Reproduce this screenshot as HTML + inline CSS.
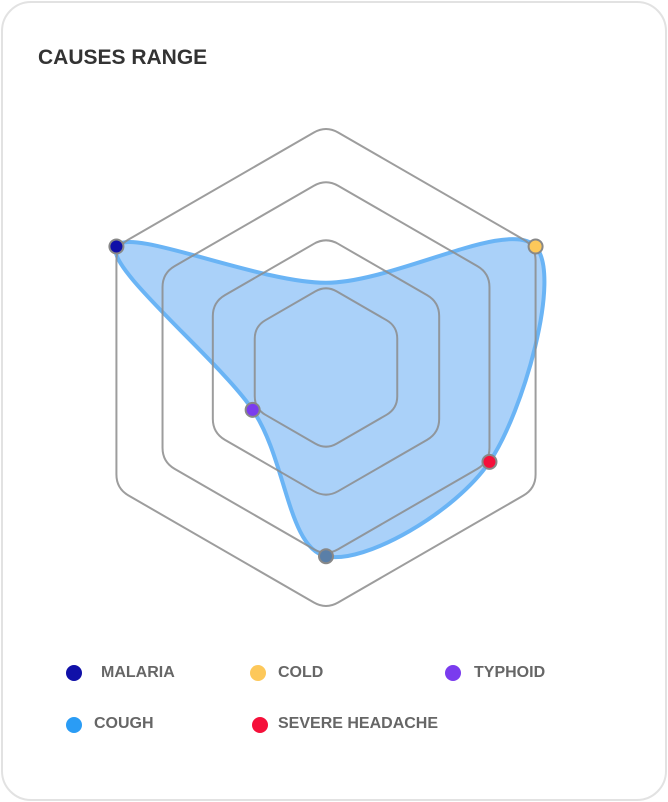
<!DOCTYPE html>
<html><head><meta charset="utf-8"><style>
body{margin:0;width:668px;height:802px;background:#fff;font-family:"Liberation Sans",sans-serif;}
.card{position:absolute;left:1px;top:1px;width:662px;height:796px;border:2px solid #e2e2e2;border-radius:30px;}
.title{position:absolute;left:38px;top:46px;font-size:21px;font-weight:bold;color:#333;}
.leg{position:absolute;font-size:16px;font-weight:bold;color:#666;}
.dot{position:absolute;width:16px;height:16px;border-radius:50%;}
</style></head><body>
<div class="card"></div>
<div class="title">CAUSES RANGE</div>
<svg id="chart" width="668" height="802" style="position:absolute;left:0;top:0"></svg>
<div class="dot" style="left:66px;top:665px;background:#1010a8"></div>
<div class="leg" style="left:101px;top:664px">MALARIA</div>
<div class="dot" style="left:250px;top:665px;background:#fdc85a"></div>
<div class="leg" style="left:278px;top:664px">COLD</div>
<div class="dot" style="left:445px;top:665px;background:#7a3cee"></div>
<div class="leg" style="left:474px;top:664px">TYPHOID</div>
<div class="dot" style="left:66px;top:717px;background:#2a9cf5"></div>
<div class="leg" style="left:94px;top:715px">COUGH</div>
<div class="dot" style="left:252px;top:717px;background:#f5103a"></div>
<div class="leg" style="left:278px;top:715px">SEVERE HEADACHE</div>
<script>
const categories=["Top","Cold","Severe Headache","Cough","Typhoid","Malaria"];
const values=[35,100,78,78,35,100];
const markerColors=[null,"#fdc85a","#f5103a","#5a7fa8","#7a3cee","#1010a8"];
const ringLevels=[34,54,78,100];
const cx=326,cy=367.5,R=242,maxV=100;
const svg=document.getElementById('chart');
const NS='http://www.w3.org/2000/svg';
function ang(i){return -Math.PI/2+i*Math.PI/3;}
function pt(i,v){const r=v/maxV*R;return [cx+r*Math.cos(ang(i)),cy+r*Math.sin(ang(i))];}
const P=values.map((v,i)=>pt(i,v));
const n=P.length,t=0.975;let d='M'+P[0].join(',');
for(let i=0;i<n;i++){
  const p0=P[(i-1+n)%n],p1=P[i],p2=P[(i+1)%n],p3=P[(i+2)%n];
  const c1=[p1[0]+(p2[0]-p0[0])/6*t,p1[1]+(p2[1]-p0[1])/6*t];
  const c2=[p2[0]-(p3[0]-p1[0])/6*t,p2[1]-(p3[1]-p1[1])/6*t];
  d+=' C'+c1.join(',')+' '+c2.join(',')+' '+p2.join(',');
}
const area=document.createElementNS(NS,'path');
area.setAttribute('d',d+'Z');area.setAttribute('fill','rgba(42,140,240,0.4)');area.setAttribute('stroke','#6ab4f5');area.setAttribute('stroke-width','4');


svg.appendChild(area);
ringLevels.forEach((lv,k)=>{
  const V=categories.map((c,i)=>pt(i,lv));
  const rc=Math.min(14,lv/maxV*R*0.15);
  let s='';
  V.forEach((v,i)=>{
    const a=V[(i-1+6)%6],b=V[(i+1)%6];
    const L=lv/maxV*R;
    const f=rc/L;
    const s1=[v[0]+(a[0]-v[0])*f,v[1]+(a[1]-v[1])*f];
    const s2=[v[0]+(b[0]-v[0])*f,v[1]+(b[1]-v[1])*f];
    s+=(i===0?'M':'L')+s1.join(',')+' Q'+v.join(',')+' '+s2.join(',')+' ';
  });
  const p=document.createElementNS(NS,'path');
  p.setAttribute('d',s+'Z');
  p.setAttribute('fill','none');p.setAttribute('stroke','rgba(140,140,140,0.85)');p.setAttribute('stroke-width','2');
  
  
  svg.appendChild(p);
});
P.forEach((p,i)=>{
  if(!markerColors[i])return;
  const c=document.createElementNS(NS,'circle');
  c.setAttribute('cx',p[0]);c.setAttribute('cy',p[1]);c.setAttribute('r',7);
  c.setAttribute('fill',markerColors[i]);c.setAttribute('stroke','#888');c.setAttribute('stroke-width','2');
  
  
  svg.appendChild(c);
});
</script>
</body></html>
